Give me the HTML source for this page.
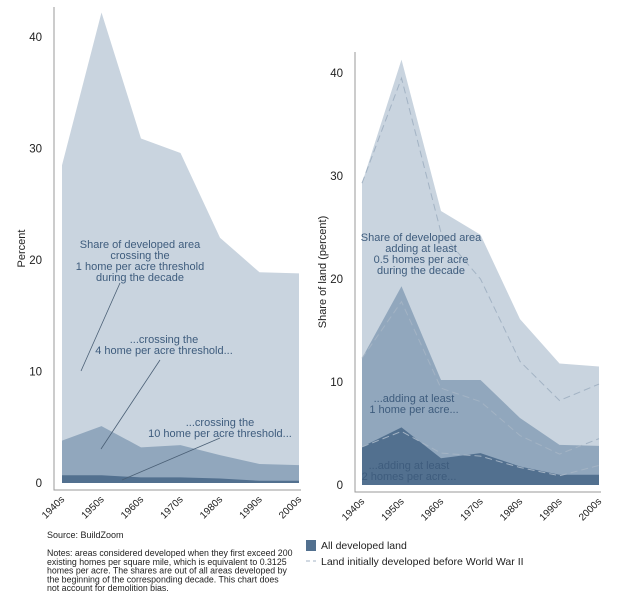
<!DOCTYPE html>
<html><head><meta charset="utf-8"><style>
body{margin:0;background:#fff;}
svg{display:block;font-family:"Liberation Sans",sans-serif;}
</style></head><body>
<svg id="c" width="620" height="602" viewBox="0 0 620 602"></svg>
<script>
const decades=["1940s","1950s","1960s","1970s","1980s","1990s","2000s"];
const leftTicks=[0,10,20,30,40];
const left1=[28.5,42.2,30.9,29.6,22,18.9,18.8];
const left4=[3.8,5.1,3.2,3.4,2.5,1.7,1.6];
const left10=[0.7,0.7,0.5,0.5,0.4,0.2,0.2];
const rightTicks=[0,10,20,30,40];
const right05=[29.3,41.3,26.6,24.3,16.1,11.8,11.5];
const right05pre=[29.3,39.5,24.5,20,12,8.2,9.8];
const right1=[12.3,19.3,10.2,10.2,6.5,3.9,3.8];
const right1pre=[12.3,17.8,9.4,8.1,4.8,3,4.5];
const right2=[3.7,5.6,2.6,3.1,1.8,1,1];
const right2pre=[3.7,5.2,3.1,2.8,1.7,0.9,1.9];

const NS="http://www.w3.org/2000/svg";
const svg=document.getElementById('c');
function mk(tag,attrs,parent,text){const e=document.createElementNS(NS,tag);for(const k in attrs)e.setAttribute(k,attrs[k]);if(text!==undefined)e.textContent=text;(parent||svg).appendChild(e);return e;}
const C1="#c9d4df",C2="#91a7bd",C3="#52708f",TC="#3e5c7d";

function panel(o){
  const g=mk('g',{});
  
  
  const n=decades.length;
  const xs=i=>o.x0+(o.x1-o.x0)*i/(n-1);
  const ys=v=>o.y0-(o.y0-o.y40)*v/40;
  o.series.forEach(s=>{
    let d='M'+xs(0)+','+ys(0);
    s.vals.forEach((v,i)=>d+='L'+xs(i)+','+ys(v));
    d+='L'+xs(n-1)+','+ys(0)+'Z';
    const p=mk('path',{d:d,fill:s.color},g);
    
    
  });
  (o.dashed||[]).forEach(s=>{
    let d='';s.vals.forEach((v,i)=>d+=(i?'L':'M')+xs(i)+','+ys(v));
    const p=mk('path',{d:d,fill:'none',stroke:'#a3b3c4','stroke-width':1,'stroke-dasharray':'7,4'},g);
    
    
  });
  const ax=mk('path',{d:`M${o.ax},${o.axTop}V${o.axB}H${o.x1+2}`,stroke:'#999',fill:'none','stroke-width':1},g);
  
  
  o.ticks.forEach(t=>{
    const e=mk('text',{x:o.ax-12,y:ys(t)+4,'text-anchor':'end','font-size':11.5,fill:'#222'},g,String(t));
    
    
  });
  decades.forEach((d,i)=>{
    const x=xs(i)+3,y=o.axB+10;
    const e=mk('text',{x:x,y:y,'text-anchor':'end','font-size':10,fill:'#222',transform:`rotate(-45 ${x} ${y})`},g,d);
    
    
  });
  const yt=mk('text',{x:o.ytx,y:(o.axTop+o.axB)/2,'text-anchor':'middle','font-size':11,fill:'#222',transform:`rotate(-90 ${o.ytx} ${(o.axTop+o.axB)/2})`},g,o.ytitle);
  
  
  return g;
}
panel({name:'left-panel',x0:62,x1:299,y0:483,y40:37,ax:54,axTop:7,axB:490,ticks:leftTicks,ytx:25,ytitle:'Percent',
  series:[{vals:left1,color:C1,name:'area-1-home'},{vals:left4,color:C2,name:'area-4-home'},{vals:left10,color:C3,name:'area-10-home'}]});
panel({name:'right-panel',x0:362,x1:599,y0:485,y40:73,ax:355,axTop:52,axB:492,ticks:rightTicks,ytx:326,ytitle:'Share of land (percent)',
  series:[{vals:right05,color:C1,name:'area-0-5-home'},{vals:right1,color:C2,name:'area-1-home'},{vals:right2,color:C3,name:'area-2-home'}],
  dashed:[{vals:right05pre,name:'prewar-0-5-line'},{vals:right1pre,name:'prewar-1-line'},{vals:right2pre,name:'prewar-2-line'}]});

function lines(arr,x,y,lh,size,color,name,anchor){
  const t=mk('text',{x:x,y:y,'font-size':size,fill:color,'text-anchor':anchor||'middle'});
  
  
  arr.forEach((s,i)=>mk('tspan',{x:x,dy:i?lh:0},t,s));
}
function ln(x1,y1,x2,y2){const l=mk('line',{x1,y1,x2,y2,stroke:'#4a5f75','stroke-width':0.8});}
lines(["Share of developed area","crossing the","1 home per acre threshold","during the decade"],140,248,11,11,TC,'annotation-1-home');
ln(81,371,120,283);
lines(["...crossing the","4 home per acre threshold..."],164,343,11,11,TC,'annotation-4-home');
ln(101,449,160,360);
lines(["...crossing the","10 home per acre threshold..."],220,426,11,11,TC,'annotation-10-home');
ln(122,480,220,438);
lines(["Share of developed area","adding at least","0.5 homes per acre","during the decade"],421,241,11,11,TC,'annotation-0-5-home');
lines(["...adding at least","1 home per acre..."],414,402,11,11,TC,'annotation-1-home-right');
lines(["...adding at least","2 homes per acre..."],409,469,11,11,TC,'annotation-2-home');

lines(["Source: BuildZoom"],47,538,10,9,'#222','source-note','start');
lines(["Notes: areas considered developed when they first exceed 200","existing homes per square mile, which is equivalent to 0.3125","homes per acre. The shares are out of all areas developed by","the beginning of the corresponding decade. This chart does","not account for demolition bias."],47,556,8.8,8.8,'#222','notes-text','start');

const sw=mk('rect',{x:306,y:540,width:10,height:11,fill:C3});


lines(["All developed land"],321,549,10,10.5,'#222','legend-label-all','start');
const dl=mk('line',{x1:306,y1:561,x2:316,y2:561,stroke:'#a3b3c4','stroke-dasharray':'4,3'});


lines(["Land initially developed before World War II"],321,565,10,10.5,'#222','legend-label-prewar','start');
</script>
</body></html>
